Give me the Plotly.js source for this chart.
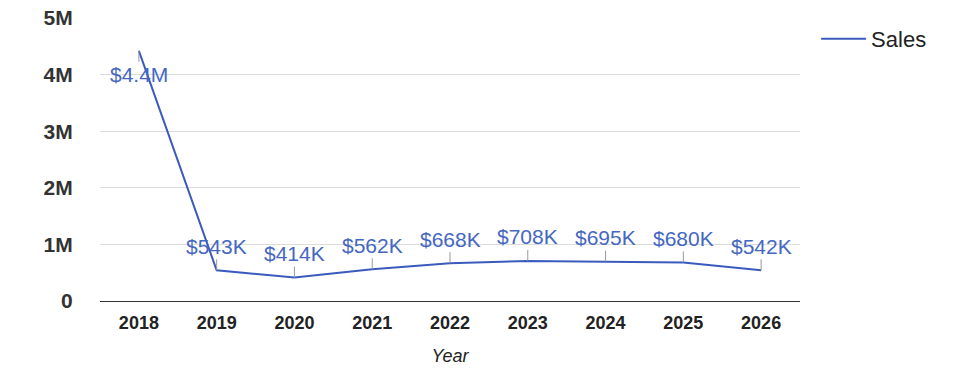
<!DOCTYPE html>
<html>
<head>
<meta charset="utf-8">
<script src="https://cdn.plot.ly/plotly-3.0.1.min.js"></script>
<style>html,body{margin:0;padding:0;background:#fff;}#chart{width:975px;height:378px;}</style>
</head>
<body>
<div id="chart"></div>
<script>
const years = ['2018','2019','2020','2021','2022','2023','2024','2025','2026'];
const sales = [4420000, 543000, 414000, 562000, 668000, 708000, 695000, 680000, 542000];
const labels = ['$4.4M','$543K','$414K','$562K','$668K','$708K','$695K','$680K','$542K'];
const yTickVals = [0, 1000000, 2000000, 3000000, 4000000, 5000000];
const yTickText = ['0','1M','2M','3M','4M','5M'];

const lineColor = '#3a5bbd';
const labelColor = '#4567c2';

const annotations = years.map((y, i) => ({
  x: i, y: sales[i], xref: 'x', yref: 'y',
  text: labels[i],
  showarrow: true, arrowhead: 0, arrowwidth: 1, arrowcolor: '#999',
  ax: 0, ay: i === 0 ? 24 : -24,
  font: {family: 'Liberation Sans, Arial, sans-serif', size: 21, color: labelColor}
}));

const trace = {
  x: years, y: sales, type: 'scatter', mode: 'lines', name: 'Sales',
  line: {color: lineColor, width: 2}
};

const layout = {
  width: 975, height: 378,
  margin: {l: 100, r: 175, t: 18, b: 77},
  paper_bgcolor: '#fff', plot_bgcolor: '#fff',
  showlegend: true,
  legend: {x: 1.023, xanchor: 'left', y: 1.0, yanchor: 'top', itemwidth: 45,
    font: {family: 'Liberation Sans, Arial, sans-serif', size: 22, color: '#222'}},
  xaxis: {
    type: 'category', range: [-0.5, 8.5],
    showgrid: false, zeroline: false, showline: false,
    ticks: 'outside', ticklen: 5, tickcolor: 'rgba(0,0,0,0)',
    tickfont: {family: 'Liberation Sans, Arial, sans-serif', size: 18, color: '#222', weight: 'bold'},
    title: {text: 'Year', standoff: 17,
      font: {family: 'Liberation Sans, Arial, sans-serif', size: 18, color: '#222', style: 'italic'}}
  },
  yaxis: {
    range: [0, 5000000], tickvals: yTickVals, ticktext: yTickText,
    showgrid: true, gridcolor: '#dcdcdc', gridwidth: 1,
    zeroline: true, zerolinecolor: '#333', zerolinewidth: 1,
    showline: false,
    ticks: 'outside', ticklen: 22, tickcolor: 'rgba(0,0,0,0)',
    tickfont: {family: 'Liberation Sans, Arial, sans-serif', size: 21, color: '#333', weight: 'bold'}
  },
  annotations: annotations
};

Plotly.newPlot('chart', [trace], layout, {displayModeBar: false, staticPlot: true});
</script>
</body>
</html>
